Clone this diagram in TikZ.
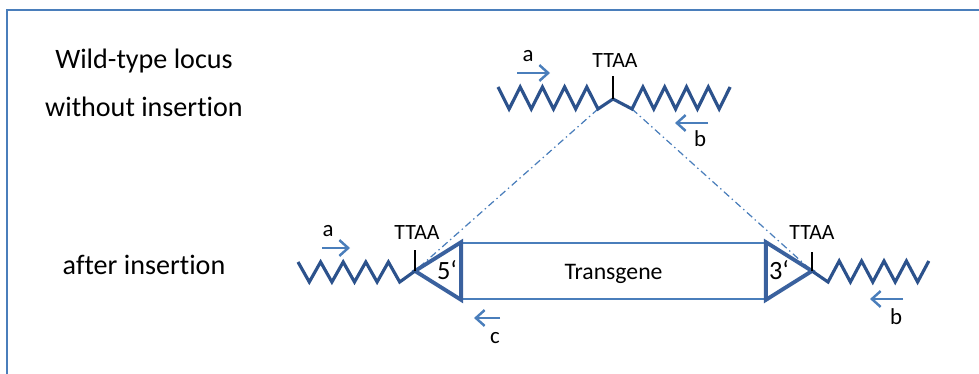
\documentclass[tikz,border=0pt]{standalone}
\usepackage{fontspec}
\setmainfont{Carlito}[Ligatures = {NoCommon, NoContextual}]
\usetikzlibrary{arrows.meta}
\definecolor{zigblue}{RGB}{44,82,140}
\definecolor{lineblue}{RGB}{74,126,187}
\definecolor{triblue}{RGB}{58,97,158}

\begin{document}
\begin{tikzpicture}[x = 0.02cm, y = -0.02cm,
  big/.style = {font = \fontsize{16}{19}\selectfont, anchor = base},
  small/.style = {font = \fontsize{12.4}{15}\selectfont, anchor = base},
  letter/.style = {font = \fontsize{13}{16}\selectfont, anchor = base},
  mid/.style = {font = \fontsize{15}{18}\selectfont, anchor = base},
  zig/.style = {line width = 1.8pt, color = zigblue, line join = miter},
  tri/.style = {line width = 2.2pt, color = triblue, fill = white, line join = miter},
  site/.style = {line width = 1.4pt, black},
  primer/.style = {line width = 1.4pt, color = lineblue, -{Straight Barb[length = 5pt, width = 9pt]}},
  guide/.style = {line width = 0.7pt, color = lineblue, dash pattern = on 4pt off 2pt on 0.8pt off 2pt},
  box/.style = {draw = lineblue, line width = 1pt, minimum width = 6.06cm, minimum height = 1.12cm, inner sep = 0pt, font = \fontsize{13.5}{16}\selectfont, text height = 10.2pt, text depth = 0pt}]
\useasboundingbox (0,0) rectangle (979,374);
\draw[line width = 1.2pt, color = lineblue] (979,10) -- (7,10) -- (7,374);

\node[big] (wt1) at (144,69) {Wild-type locus};
\node[big] (wt2) at (144,117) {without insertion};
\node[big] (ins) at (144,275) {after insertion};

\coordinate (siteT) at (613,99);
\coordinate (vL) at (598,109);
\coordinate (vR) at (632,109);
\coordinate (tipL) at (415,271);
\coordinate (tipR) at (812,271);

\draw[guide] (vL) -- (tipL);
\draw[guide] (vR) -- (tipR);

\node[box] (tg) at (613.5,271) {Transgene};
\draw[tri] (tg.north west) -- (tg.south west) -- (tipL) -- cycle;
\draw[tri] (tg.north east) -- (tg.south east) -- (tipR) -- cycle;
\node[mid] (p5) at (447,280) {5‘};
\node[mid] (p3) at (779,280) {3‘};

\draw[zig] (498,87) \foreach \i in {1,...,4} {-- ++(11.1,22) -- ++(11.1,-22)} -- (vL) -- (siteT) -- (vR) \foreach \i in {1,...,4} {-- ++(10.9,-22) -- ++(10.9,22)} -- ++(10.9,-22);
\draw[zig] (298,262) \foreach \i in {1,...,4} {-- ++(11.3,20) -- ++(11.3,-20)} -- ++(11.3,20) -- (tipL);
\draw[zig] (tipR) -- (828,282) \foreach \i in {1,...,4} {-- ++(11.2,-21) -- ++(11.2,21)} -- ++(11.2,-21);

\draw[site] (siteT) -- ++(0,-23);
\draw[site] (tipL) -- ++(0,-21);
\draw[site] (tipR) -- ++(0,-19);

\node[small] (ttaaT) at (615,68) {TTAA};
\node[small] (ttaaL) at (417,240) {TTAA};
\node[small] (ttaaR) at (812,240) {TTAA};
\node[letter] (aT) at (528,62) {a};
\node[letter] (bT) at (700,147) {b};
\node[letter] (aB) at (328,237) {a};
\node[letter] (bB) at (896,325) {b};
\node[letter] (cB) at (495,343) {c};

\coordinate (aT1) at (517,73);
\coordinate (aT2) at (550,73);
\coordinate (bT1) at (708,123);
\coordinate (bT2) at (675,123);
\coordinate (aB1) at (322,248);
\coordinate (aB2) at (350,248);
\coordinate (cB1) at (500,318);
\coordinate (cB2) at (474,318);
\coordinate (bB1) at (903,299);
\coordinate (bB2) at (870,299);
\draw[primer] (aT1) -- (aT2);
\draw[primer] (bT1) -- (bT2);
\draw[primer] (aB1) -- (aB2);
\draw[primer] (cB1) -- (cB2);
\draw[primer] (bB1) -- (bB2);
\end{tikzpicture}
\end{document}
